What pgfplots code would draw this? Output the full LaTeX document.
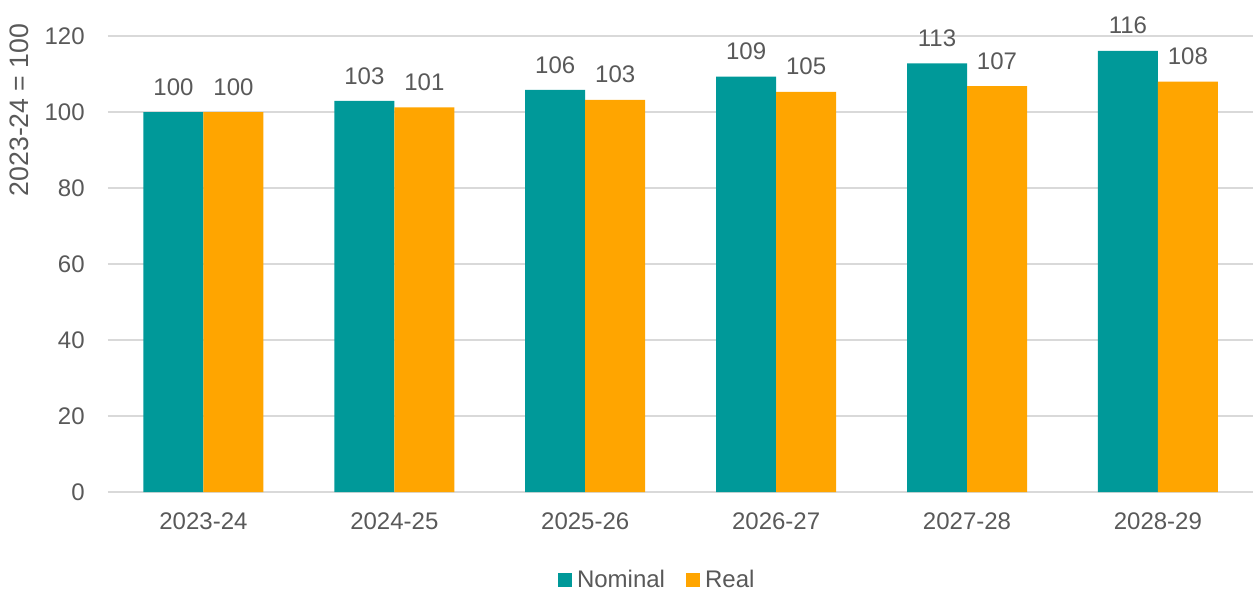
\documentclass[border=0pt]{standalone}
\usepackage{pgfplots}
\pgfplotsset{compat=1.18}
\usetikzlibrary{calc}
\usepackage{fontspec}
\setmainfont{Liberation Sans}
\definecolor{nomc}{HTML}{009999}
\definecolor{realc}{HTML}{FFA500}
\definecolor{txt}{HTML}{595959}
\definecolor{gridc}{HTML}{D9D9D9}
\begin{document}
\begin{tikzpicture}
\begin{axis}[
  scale only axis,
  width=859pt, height=342pt,
  ybar, bar width=45pt,
  ymin=0, ymax=120, ytick={0,20,...,120},
  xmin=-0.5, xmax=5.5,
  xtick={0,...,5},
  xticklabels={2023-24,2024-25,2025-26,2026-27,2027-28,2028-29},
  major tick length=0pt,
  ymajorgrids, grid style={gridc, line width=0.9pt},
  axis x line*=bottom, axis y line*=left,
  y axis line style={draw=none},
  x axis line style={gridc, line width=0.9pt, -},
  ticklabel style={font=\fontsize{18}{21}\selectfont, text=txt},
  xticklabel style={yshift=-12pt},
  yticklabel style={xshift=-14pt},
  /pgf/number format/assume math mode=true,
  ylabel={2023-24 = 100},
  ylabel style={font=\fontsize{20}{23}\selectfont, text=txt, at={(axis description cs:-0.077,0.838)}, anchor=center},
  nodes near coords,
  nodes near coords style={font=\fontsize{18}{21}\selectfont, text=txt, /pgf/number format/fixed, /pgf/number format/precision=0, yshift=9pt},
  legend style={at={(0.480,-0.193)}, anchor=center, draw=none, legend columns=-1,
    font=\fontsize{18}{21}\selectfont, text=txt,
    /tikz/every odd column/.append style={column sep=2pt},
    /tikz/every even column/.append style={column sep=14pt}},
  legend image code/.code={\fill[#1] (0pt,-5pt) rectangle (10pt,5pt);},
  clip=false,
]
\addplot[draw=none, fill=nomc, bar shift=-22.5pt] coordinates {(0,100) (1,102.9) (2,105.8) (3,109.3) (4,112.8) (5,116.1)};
\addplot[draw=none, fill=realc, bar shift=22.5pt] coordinates {(0,100) (1,101.2) (2,103.2) (3,105.3) (4,106.8) (5,108.0)};
\legend{Nominal, Real}
\end{axis}
\path ($(current axis.south west)+(-81pt,-73.5pt)$) rectangle ($(current axis.north east)+(0.5pt,27pt)$);
\end{tikzpicture}
\end{document}
